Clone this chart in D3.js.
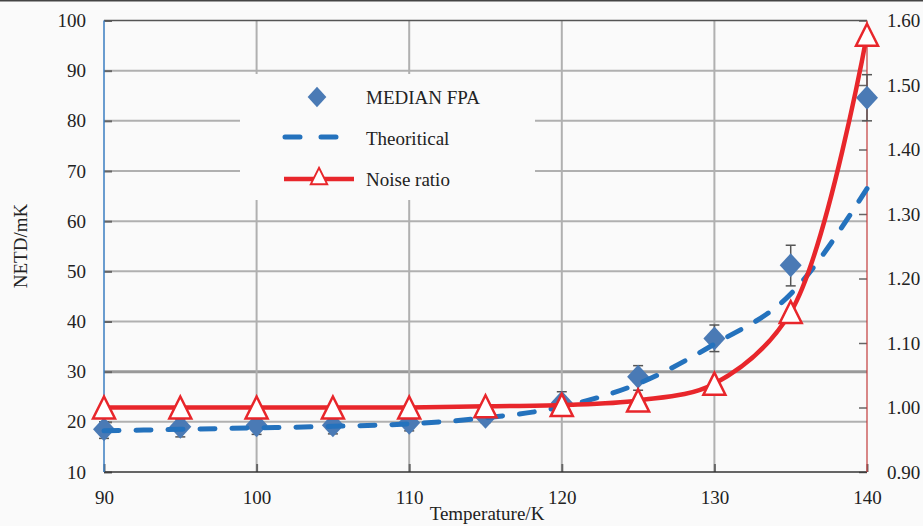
<!DOCTYPE html>
<html>
<head>
<meta charset="utf-8">
<script src="https://cdn.jsdelivr.net/npm/d3@7"></script>
<style>
  html, body { margin: 0; padding: 0; background: #fafafa; }
  svg { display: block; }
  .tick text { font-family: "Liberation Serif", "Times New Roman", serif; font-size: 19px; fill: #222; }
</style>
</head>
<body>
<div id="chart"></div>
<script>
// data
const temps = [90, 95, 100, 105, 110, 115, 120, 125, 130, 135, 140];
const fpaMedian = [18.5, 19.0, 19.3, 19.3, 19.8, 21.0, 23.8, 29.0, 36.6, 51.2, 84.6];
const fpaLow    = [16.7, 17.0, 17.5, 17.6, 18.2, 19.8, 21.5, 26.3, 34.0, 47.1, 80.0];
const fpaHigh   = [20.0, 20.5, 20.8, 20.8, 21.2, 22.2, 26.0, 31.2, 39.3, 55.2, 89.2];
const theoretical = [18.2, 18.5, 18.8, 19.1, 19.6, 20.8, 23.0, 27.6, 35.5, 45.5, 66.5];
const noiseRatio = [1.000, 1.000, 1.000, 1.000, 1.000, 1.002, 1.004, 1.011, 1.037, 1.148, 1.578];

const xTicks = [90, 100, 110, 120, 130, 140];
const leftTicks = [10, 20, 30, 40, 50, 60, 70, 80, 90, 100];
const rightTicks = [0.90, 1.00, 1.10, 1.20, 1.30, 1.40, 1.50, 1.60];
const legendLabels = ["MEDIAN FPA", "Theoritical", "Noise ratio"];

const W = 923, H = 526;
const m = {left: 104, right: 867, top: 20.5, bottom: 472};
const blue = "#4a7ab5", dashBlue = "#2472bd", red = "#e8262b";
const font = '"Liberation Serif", "Times New Roman", serif';

let x = d3.scaleLinear().domain([90, 140]).range([m.left, m.right]);
let y = d3.scaleLinear().domain([10, 100]).range([m.bottom, m.top]);
let y2 = d3.scaleLinear().domain([0.9, 1.6]).range([m.bottom, m.top]);

let svg = d3.select("#chart").append("svg")
    .attr("width", W)
    .attr("height", H);

svg.append("rect").attr("width", W).attr("height", H).attr("fill", "#fafafa");
svg.append("line").attr("x1", 0).attr("x2", W).attr("y1", 0.5).attr("y2", 0.5)
    .attr("stroke", "#444").attr("stroke-width", 2);

// grid
let grid = svg.append("g");
grid.selectAll(".hg")
    .data(leftTicks.filter(d => d > 10 && d < 100))
    .enter().append("line")
    .attr("x1", m.left).attr("x2", m.right)
    .attr("y1", d => y(d)).attr("y2", d => y(d))
    .attr("stroke", d => d === 30 ? "#999" : "#b0b0b0")
    .attr("stroke-width", d => d === 30 ? 3 : 2);
grid.selectAll(".vg")
    .data(xTicks.filter(d => d > 90 && d < 140))
    .enter().append("line")
    .attr("x1", d => x(d)).attr("x2", d => x(d))
    .attr("y1", m.top).attr("y2", m.bottom)
    .attr("stroke", "#b0b0b0")
    .attr("stroke-width", 2);

// legend box covers grid
svg.append("rect")
    .attr("x", 240).attr("y", 74).attr("width", 295).attr("height", 126)
    .attr("fill", "#fafafa");

// axes
let yAxis = d3.axisLeft(y).tickValues(leftTicks).tickSize(-8).tickPadding(18);
let gy = svg.append("g").attr("transform", `translate(${m.left},0)`).call(yAxis);
gy.select(".domain").remove();
gy.selectAll(".tick line").attr("stroke", "#666").attr("stroke-width", 2);

let y2Axis = d3.axisRight(y2).tickValues(rightTicks).tickSize(-8).tickPadding(20)
    .tickFormat(d3.format(".2f"));
let gy2 = svg.append("g").attr("transform", `translate(${m.right},0)`).call(y2Axis);
gy2.select(".domain").remove();
gy2.selectAll(".tick line").attr("stroke", "#666").attr("stroke-width", 1.5);

let xAxis = d3.axisBottom(x).tickValues(xTicks).tickSize(-8).tickPadding(19);
let gx = svg.append("g").attr("transform", `translate(0,${m.bottom})`).call(xAxis);
gx.select(".domain").remove();
gx.selectAll(".tick line").attr("stroke", "#666").attr("stroke-width", 2);

// frame
svg.append("line").attr("x1", m.left).attr("x2", m.right).attr("y1", m.top).attr("y2", m.top)
    .attr("stroke", "#555").attr("stroke-width", 1.5);
svg.append("line").attr("x1", m.left).attr("x2", m.right).attr("y1", m.bottom).attr("y2", m.bottom)
    .attr("stroke", "#333").attr("stroke-width", 1.5);
svg.append("line").attr("x1", m.left).attr("x2", m.left).attr("y1", m.top).attr("y2", m.bottom)
    .attr("stroke", "#3a7cc0").attr("stroke-width", 1.5);
svg.append("line").attr("x1", m.right).attr("x2", m.right).attr("y1", m.top).attr("y2", m.bottom)
    .attr("stroke", "#c23a3a").attr("stroke-width", 1.2);

// axis titles
svg.append("text")
    .attr("x", 487).attr("y", 520)
    .attr("text-anchor", "middle")
    .style("font-family", font).style("font-size", "19px").attr("fill", "#222")
    .text("Temperature/K");
svg.append("text")
    .attr("transform", "translate(27,246) rotate(-90)")
    .attr("text-anchor", "middle")
    .style("font-family", font).style("font-size", "19px").attr("fill", "#222")
    .text("NETD/mK");

const diamond = "M0,-12L11,0L0,12L-11,0Z";
const triangle = "M0,-11L11,11L-11,11Z";

let rows = temps.map((t, i) => ({t, med: fpaMedian[i], lo: fpaLow[i], hi: fpaHigh[i],
    th: theoretical[i], nr: noiseRatio[i]}));

let plot = svg.append("g");

// error bars
let eb = plot.selectAll(".eb").data(rows).enter().append("g")
    .attr("stroke", "#555").attr("stroke-width", 1.5);
eb.append("line").attr("x1", d => x(d.t)).attr("x2", d => x(d.t))
    .attr("y1", d => y(d.lo)).attr("y2", d => y(d.hi));
eb.append("line").attr("x1", d => x(d.t) - 5).attr("x2", d => x(d.t) + 5)
    .attr("y1", d => y(d.lo)).attr("y2", d => y(d.lo));
eb.append("line").attr("x1", d => x(d.t) - 5).attr("x2", d => x(d.t) + 5)
    .attr("y1", d => y(d.hi)).attr("y2", d => y(d.hi));

// diamonds
plot.selectAll(".dia").data(rows).enter().append("path")
    .attr("d", diamond)
    .attr("transform", d => `translate(${x(d.t)},${y(d.med)})`)
    .attr("fill", blue);

// theoretical
let thLine = d3.line().x(d => x(d.t)).y(d => y(d.th)).curve(d3.curveMonotoneX);
plot.append("path").datum(rows)
    .attr("d", thLine)
    .attr("fill", "none")
    .attr("stroke", dashBlue)
    .attr("stroke-width", 5)
    .attr("stroke-linecap", "round")
    .attr("stroke-dasharray", "15,17");

// noise ratio
let nrLine = d3.line().x(d => x(d.t)).y(d => y2(d.nr)).curve(d3.curveCatmullRom);
plot.append("path").datum(rows)
    .attr("d", nrLine)
    .attr("fill", "none")
    .attr("stroke", red)
    .attr("stroke-width", 4.5);

plot.selectAll(".tri").data(rows).enter().append("path")
    .attr("d", triangle)
    .attr("transform", d => `translate(${x(d.t)},${y2(d.nr)})`)
    .attr("fill", "#fff")
    .attr("stroke", red)
    .attr("stroke-width", 2.5);

// legend
let lg = svg.append("g");
lg.append("path").attr("d", diamond).attr("transform", "translate(317,97) scale(0.85)").attr("fill", blue);
lg.append("line").attr("x1", 285).attr("x2", 340).attr("y1", 137).attr("y2", 137)
    .attr("stroke", dashBlue).attr("stroke-width", 5).attr("stroke-linecap", "round")
    .attr("stroke-dasharray", "15,21");
lg.append("line").attr("x1", 284).attr("x2", 354).attr("y1", 179).attr("y2", 179)
    .attr("stroke", red).attr("stroke-width", 4.5);
lg.append("path").attr("d", triangle).attr("transform", "translate(319,176) scale(0.75)")
    .attr("fill", "#fff").attr("stroke", red).attr("stroke-width", 2.5);
lg.selectAll(".lt").data(legendLabels).enter().append("text")
    .attr("x", 366)
    .attr("y", (d, i) => 104 + i * 41)
    .style("font-family", font).style("font-size", "19px").attr("fill", "#222")
    .text(d => d);
</script>
</body>
</html>
